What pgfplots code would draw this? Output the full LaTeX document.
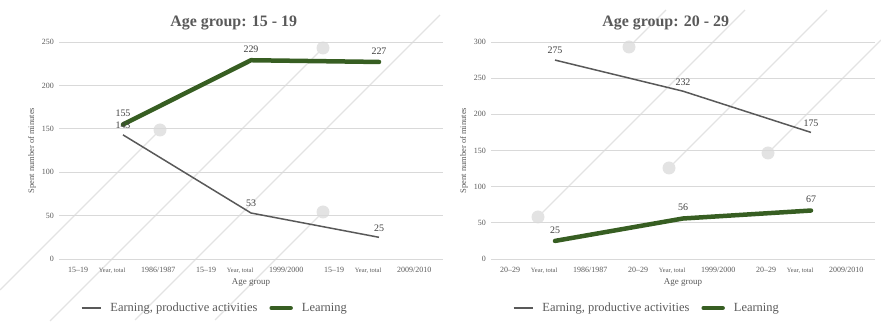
\documentclass[border=0pt]{standalone}
\usepackage{fontspec}
\setmainfont{Liberation Serif}
\usepackage{pgfplots}
\pgfplotsset{compat=1.18}

\definecolor{earn}{HTML}{595959}
\definecolor{learn}{HTML}{375E22}
\definecolor{decor}{HTML}{E3E3E3}
\definecolor{gridc}{HTML}{D9D9D9}
\definecolor{txt}{HTML}{595959}
\definecolor{lbl}{HTML}{404040}

\newcommand\yt{\fontsize{6.5}{6.5}\selectfont Year, total}

\pgfplotsset{
  panel/.style={
    scale only axis, width=384bp, height=217bp,
    xmin=-0.5, xmax=2.5, ymin=0,
    axis line style={draw=none},
    ymajorgrids, grid style={gridc, line width=0.7bp},
    major tick length=0,
    xtick={-0.35,-0.085,0.275,0.65,0.915,1.275,1.65,1.915,2.275},
    /pgf/number format/assume math mode=true,
    tick label style={font=\fontsize{8}{9}\selectfont, text=txt},
    xticklabel style={anchor=base, yshift=-13bp, inner sep=0pt},
    yticklabel style={inner sep=0pt, xshift=-5bp},
    xlabel={Age group},
    ylabel={Spent number of minutes},
    xlabel style={font=\fontsize{9}{10}\selectfont, text=txt,
      at={(axis description cs:0.5,-0.11)}, anchor=center},
    ylabel style={font=\fontsize{8.5}{9}\selectfont, text=txt,
      at={(axis description cs:-0.07,0.5)}, anchor=center},
    title style={font=\fontsize{16}{18}\selectfont\bfseries, text=txt,
      at={(axis description cs:0.455,1)}, anchor=center, yshift=13bp},
    clip=false,
    nodes near coords,
    nodes near coords style={font=\fontsize{10}{11}\selectfont, text=lbl,
      anchor=south, yshift=2bp},
    legend columns=2,
    legend cell align=left,
    legend style={draw=none, fill=none, at={(0.406,-0.226)}, anchor=center,
      font=\fontsize{12.5}{13}\selectfont, text=txt,
      /tikz/every odd column/.append style={column sep=7bp},
      /tikz/every even column/.append style={column sep=10bp}},
    legend image code/.code={\draw[#1] (0bp,0bp) -- (19bp,0bp);},
  },
  earnline/.style={earn, line width=1.5bp, mark=none},
  learnline/.style={learn, line width=4.5bp, line cap=round, line join=round, mark=none},
}

\begin{document}
\begin{tikzpicture}
\useasboundingbox (0bp,0bp) rectangle (881bp,323bp);

% faint diagonal background pattern (drawn in bp from the top-left corner)
\begin{scope}[x=1bp, y=-1bp, shift={(0bp,323bp)}, decor, line width=1.2bp]
  \draw (0,290) -- (160,130);
  \draw (50,321) -- (323,48);
  \draw (135,320) -- (440,15);
  \draw (215,320) -- (323,212);
  \draw (629,47) -- (666,10);
  \draw (538,217) -- (745,10);
  \draw (669,168) -- (827,10);
  \draw (768,153) -- (881,40);
  \foreach \p in {(160,130),(323,48),(323,212),(629,47),(538,217),(669,168),(768,153)}
    \fill \p circle (6.5bp);
\end{scope}

% age group 15-19
\begin{axis}[panel, at={(59bp,64bp)}, anchor=south west,
  ymax=250, ytick={0,50,...,250},
  title={Age group: 15 - 19},
  xticklabels={15--19,\yt,1986/1987,15--19,\yt,1999/2000,15--19,\yt,2009/2010}]
  \addplot[earnline] coordinates {(0,143) (1,53) (2,25)};
  \addlegendentry{Earning, productive activities}
  \addplot[learnline] coordinates {(0,155) (1,229) (2,227)};
  \addlegendentry{Learning}
\end{axis}

% age group 20-29
\begin{axis}[panel, at={(491bp,64bp)}, anchor=south west,
  ymax=300, ytick={0,50,...,300},
  title={Age group: 20 - 29},
  xticklabels={20--29,\yt,1986/1987,20--29,\yt,1999/2000,20--29,\yt,2009/2010}]
  \addplot[earnline] coordinates {(0,275) (1,232) (2,175)};
  \addlegendentry{Earning, productive activities}
  \addplot[learnline] coordinates {(0,25) (1,56) (2,67)};
  \addlegendentry{Learning}
\end{axis}
\end{tikzpicture}
\end{document}
